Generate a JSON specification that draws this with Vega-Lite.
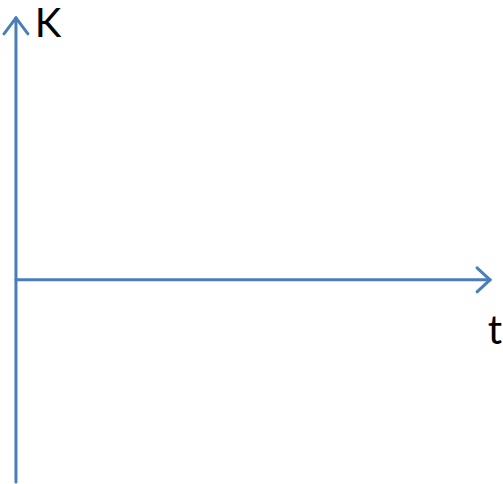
{
  "$schema": "https://vega.github.io/schema/vega-lite/v6.json",
  "width": 503,
  "height": 484,
  "autosize": {"type": "fit", "contains": "padding"},
  "padding": 0,
  "background": "white",
  "config": {"view": {"stroke": null}},
  "datasets": {
    "segments": [
      {"part": "K axis", "x": 0, "y": -203, "x2": 0, "y2": 263},
      {"part": "K arrow left", "x": -12, "y": 247, "x2": 0, "y2": 263},
      {"part": "K arrow right", "x": 12, "y": 247, "x2": 0, "y2": 263},
      {"part": "t axis", "x": 0, "y": 0, "x2": 475, "y2": 0},
      {"part": "t arrow top", "x": 462, "y": 12, "x2": 475, "y2": 0},
      {"part": "t arrow bottom", "x": 462, "y": -12, "x2": 475, "y2": 0}
    ],
    "labels": [
      {"label": "K", "x": 32, "y": 244},
      {"label": "t", "x": 480, "y": -64}
    ]
  },
  "layer": [
    {
      "data": {"name": "segments"},
      "mark": {"type": "rule", "color": "#4A7EBB", "strokeWidth": 3, "strokeCap": "round"},
      "encoding": {
        "x": {"field": "x", "type": "quantitative", "scale": {"domain": [-16, 487], "nice": false, "zero": false}, "axis": null},
        "y": {"field": "y", "type": "quantitative", "scale": {"domain": [-203, 281], "nice": false, "zero": false}, "axis": null},
        "x2": {"field": "x2"},
        "y2": {"field": "y2"}
      }
    },
    {
      "data": {"name": "labels"},
      "mark": {"type": "text", "font": "Lato", "fontSize": 40, "color": "black", "align": "center", "baseline": "alphabetic"},
      "encoding": {
        "x": {"field": "x", "type": "quantitative", "scale": {"domain": [-16, 487], "nice": false, "zero": false}, "axis": null},
        "y": {"field": "y", "type": "quantitative", "scale": {"domain": [-203, 281], "nice": false, "zero": false}, "axis": null},
        "text": {"field": "label"}
      }
    }
  ]
}
